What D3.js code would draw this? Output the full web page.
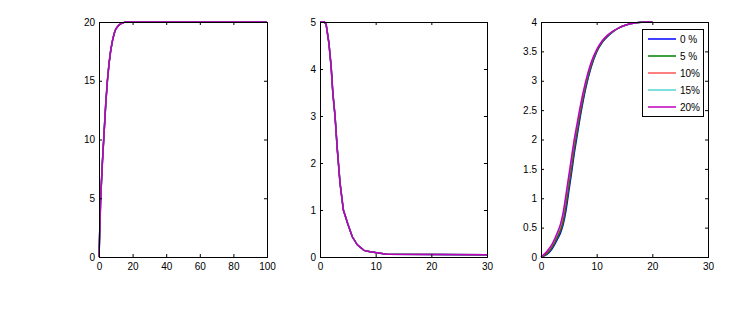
<!DOCTYPE html>
<html>
<head>
<meta charset="utf-8">
<script src="https://cdn.jsdelivr.net/npm/d3@7.9.0/dist/d3.min.js"></script>
<style>
  body { margin: 0; background: #fff; }
  svg { display: block; }
  text { font-family: Arial, "Liberation Sans", sans-serif; font-size: 10px; fill: #000; }
</style>
</head>
<body>
<svg id="chart" width="753" height="314"></svg>
<script>
// series labels and colours (legend of the third panel)
const seriesNames = ['0 %', '5 %', '10%', '15%', '20%'];
const seriesColors = ['#0000ff', '#008000', '#ff0000', '#00bfbf', '#bf00bf'];
const seriesWidths = [1.5, 1.5, 1, 1, 1.5];

// panel 1 - all five series lie on top of each other
const p1X = [0, 0.5, 1, 1.5, 2, 3, 4, 5, 6, 7, 8, 9, 10, 11, 12, 13, 14, 15, 16, 100];
const p1Y = [0, 2.5, 5, 6.5, 8, 10.5, 13, 15, 16.5, 17.6, 18.4, 19, 19.4, 19.6, 19.75, 19.85, 19.92, 19.97, 20, 20];

// panel 2 - decays to a small tail
const p2X = [0, 0.8, 1.1, 1.6, 2, 2.3, 2.7, 3.1, 3.6, 4.2, 5, 5.8, 6.7, 7.9, 9, 10.2, 12, 30];
const p2Y = [5, 5, 4.95, 4.55, 4.05, 3.5, 3.0, 2.3, 1.57, 1.0, 0.7, 0.43, 0.26, 0.14, 0.11, 0.09, 0.06, 0.05];

// panel 3 - one curve per series
const p3X = [0, 1, 2, 3, 3.5, 4, 4.5, 5, 5.5, 6, 6.5, 7, 8, 9, 10, 11, 12, 13, 14, 15, 16, 17, 18, 19, 20];
const p3S0 = [0, 0.04, 0.14, 0.31, 0.41, 0.56, 0.8, 1.12, 1.44, 1.78, 2.07, 2.36, 2.86, 3.23, 3.49, 3.655, 3.76, 3.84, 3.9, 3.94, 3.97, 3.985, 3.995, 4, 4];
const p3S5 = [0, 0.05, 0.16, 0.34, 0.445, 0.6, 0.87, 1.19, 1.51, 1.84, 2.13, 2.41, 2.89, 3.25, 3.5, 3.66, 3.765, 3.84, 3.9, 3.94, 3.97, 3.985, 3.995, 4, 4];
const p3S10 = [0, 0.06, 0.18, 0.37, 0.48, 0.65, 0.93, 1.25, 1.57, 1.9, 2.18, 2.45, 2.92, 3.27, 3.51, 3.67, 3.77, 3.845, 3.9, 3.94, 3.97, 3.985, 3.995, 4, 4];
const p3S15 = [0, 0.075, 0.2, 0.4, 0.52, 0.71, 1.0, 1.32, 1.64, 1.96, 2.23, 2.5, 2.95, 3.29, 3.52, 3.675, 3.775, 3.845, 3.9, 3.94, 3.97, 3.985, 3.995, 4, 4];
const p3S20 = [0, 0.09, 0.22, 0.43, 0.56, 0.77, 1.07, 1.39, 1.71, 2.02, 2.28, 2.54, 2.98, 3.31, 3.53, 3.68, 3.78, 3.85, 3.9, 3.94, 3.97, 3.985, 3.995, 4, 4];

// tick values
const p1XTicks = [0, 20, 40, 60, 80, 100];
const p1YTicks = [0, 5, 10, 15, 20];
const p2XTicks = [0, 10, 20, 30];
const p2YTicks = [0, 1, 2, 3, 4, 5];
const p3XTicks = [0, 10, 20, 30];
const p3YTicks = [0, 0.5, 1, 1.5, 2, 2.5, 3, 3.5, 4];

const svg = d3.select('#chart');
const plotTop = 22, plotBottom = 257;

const panels = [
  { left: 99, right: 267, xMax: 100, yMax: 20, xTicks: p1XTicks, yTicks: p1YTicks,
    series: seriesNames.map(() => p1X.map((x, i) => [x, p1Y[i]])), smooth: false },
  { left: 320, right: 487, xMax: 30, yMax: 5, xTicks: p2XTicks, yTicks: p2YTicks,
    series: seriesNames.map(() => p2X.map((x, i) => [x, p2Y[i]])), smooth: false },
  { left: 541, right: 708, xMax: 30, yMax: 4, xTicks: p3XTicks, yTicks: p3YTicks,
    series: [p3S0, p3S5, p3S10, p3S15, p3S20].map(s => p3X.map((x, i) => [x, s[i]])), smooth: true, legend: true }
];

panels.forEach(p => {
  const x = d3.scaleLinear().domain([0, p.xMax]).range([p.left, p.right]);
  const y = d3.scaleLinear().domain([0, p.yMax]).range([plotBottom, plotTop]);
  const g = svg.append('g');

  const line = d3.line().x(d => x(d[0])).y(d => y(d[1]));
  if (p.smooth) line.curve(d3.curveMonotoneX);

  p.series.forEach((s, i) => {
    g.append('path').attr('d', line(s)).attr('fill', 'none')
      .attr('stroke', seriesColors[i]).attr('stroke-width', seriesWidths[i]);
  });

  // box with inward ticks on all four sides
  const fmt = d3.format('~g');
  g.append('g').attr('transform', `translate(0,${plotBottom})`)
    .call(d3.axisBottom(x).tickValues(p.xTicks).tickSize(-3).tickPadding(6).tickFormat(fmt));
  g.append('g').attr('transform', `translate(0,${plotTop})`)
    .call(d3.axisTop(x).tickValues(p.xTicks).tickSize(-3).tickFormat(''));
  g.append('g').attr('transform', `translate(${p.left},0)`)
    .call(d3.axisLeft(y).tickValues(p.yTicks).tickSize(-3).tickPadding(4).tickFormat(fmt));
  g.append('g').attr('transform', `translate(${p.right},0)`)
    .call(d3.axisRight(y).tickValues(p.yTicks).tickSize(-3).tickFormat(''));
  g.selectAll('.domain').attr('stroke', '#000').attr('stroke-width', 1);
  g.selectAll('.tick line').attr('stroke', '#000');
  g.selectAll('.tick text').attr('font-size', 10).attr('font-family', 'Arial, "Liberation Sans", sans-serif').attr('fill', '#000');

  if (p.legend) {
    const lg = svg.append('g');
    lg.append('rect').attr('x', 642.5).attr('y', 29.5).attr('width', 61).attr('height', 87)
      .attr('fill', '#fff').attr('stroke', '#000');
    seriesNames.forEach((name, i) => {
      const ly = 39 + i * 17;
      lg.append('line').attr('x1', 648).attr('x2', 676).attr('y1', ly).attr('y2', ly)
        .attr('stroke', seriesColors[i]).attr('stroke-width', seriesWidths[i]);
      lg.append('text').attr('x', 680).attr('y', ly + 3.5).text(name);
    });
  }
});
</script>
</body>
</html>
